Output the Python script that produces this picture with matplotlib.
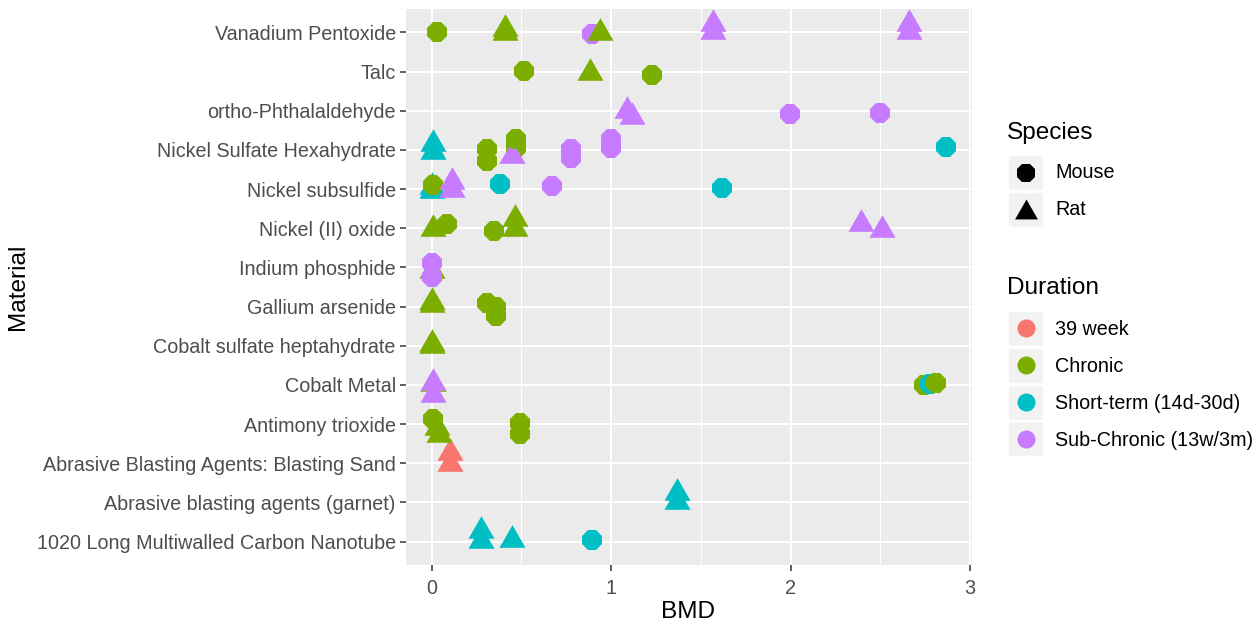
import matplotlib
matplotlib.use("Agg")
import matplotlib.pyplot as plt
from matplotlib.path import Path
from matplotlib.patches import Rectangle

plt.rcParams['font.family'] = ['Liberation Sans', 'DejaVu Sans']

# ---------------- data ----------------
materials = [
    "1020 Long Multiwalled Carbon Nanotube",
    "Abrasive blasting agents (garnet)",
    "Abrasive Blasting Agents: Blasting Sand",
    "Antimony trioxide",
    "Cobalt Metal",
    "Cobalt sulfate heptahydrate",
    "Gallium arsenide",
    "Indium phosphide",
    "Nickel (II) oxide",
    "Nickel subsulfide",
    "Nickel Sulfate Hexahydrate",
    "ortho-Phthalaldehyde",
    "Talc",
    "Vanadium Pentoxide",
]
durations = ["39 week", "Chronic", "Short-term (14d-30d)", "Sub-Chronic (13w/3m)"]
duration_colors = ["#F8766D", "#7CAE00", "#00BFC4", "#C77CFF"]
species_levels = ["Mouse", "Rat"]

C1020, GAR, SAND, SB, CO, COS, GA, IN, NIO, NIS, NSH, OPA, TALC, VAN = materials
D39, CHR, SHT, SUB = durations

pt_material = [
    C1020, C1020, C1020, C1020,
    GAR, GAR,
    SAND, SAND,
    SB, SB, SB, SB, SB,
    CO, CO, CO, CO, CO, CO,
    COS, COS,
    GA, GA, GA, GA, GA,
    IN, IN, IN,
    NIO, NIO, NIO, NIO, NIO, NIO, NIO,
    NIS, NIS, NIS, NIS, NIS, NIS, NIS, NIS,
    NSH, NSH, NSH, NSH, NSH, NSH, NSH, NSH, NSH, NSH, NSH, NSH,
    OPA, OPA, OPA, OPA,
    TALC, TALC, TALC,
    VAN, VAN, VAN, VAN, VAN, VAN, VAN, VAN, VAN,
]
pt_species = [
    "Rat", "Rat", "Rat", "Mouse",
    "Rat", "Rat",
    "Rat", "Rat",
    "Mouse", "Rat", "Rat", "Mouse", "Mouse",
    "Rat", "Rat", "Rat", "Mouse", "Mouse", "Mouse",
    "Rat", "Rat",
    "Rat", "Rat", "Mouse", "Mouse", "Mouse",
    "Rat", "Mouse", "Mouse",
    "Rat", "Mouse", "Mouse", "Rat", "Rat", "Rat", "Rat",
    "Rat", "Rat", "Mouse", "Rat", "Rat", "Mouse", "Mouse", "Mouse",
    "Rat", "Rat", "Mouse", "Mouse", "Mouse", "Rat", "Mouse", "Mouse", "Mouse", "Mouse", "Mouse", "Mouse",
    "Rat", "Rat", "Mouse", "Mouse",
    "Mouse", "Rat", "Mouse",
    "Mouse", "Rat", "Rat", "Mouse", "Rat", "Rat", "Rat", "Rat", "Rat",
]
pt_duration = [
    SHT, SHT, SHT, SHT,
    SHT, SHT,
    D39, D39,
    CHR, CHR, CHR, CHR, CHR,
    CHR, SUB, SUB, CHR, SHT, CHR,
    CHR, CHR,
    CHR, CHR, CHR, CHR, CHR,
    CHR, SUB, SUB,
    CHR, CHR, CHR, CHR, CHR, SUB, SUB,
    SHT, SHT, CHR, SUB, SUB, SHT, SUB, SHT,
    SHT, SHT, CHR, CHR, CHR, SUB, CHR, SUB, SUB, SUB, SUB, SHT,
    SUB, SUB, SUB, SUB,
    CHR, CHR, CHR,
    CHR, CHR, CHR, SUB, CHR, SUB, SUB, SUB, SUB,
]
pt_bmd = [
    0.274, 0.274, 0.448, 0.892,
    1.367, 1.367,
    0.102, 0.102,
    0.008, 0.028, 0.040, 0.493, 0.493,
    0.005, 0.009, 0.009, 2.743, 2.775, 2.810,
    0.000, 0.000,
    0.000, 0.000, 0.309, 0.360, 0.360,
    0.000, 0.000, 0.000,
    0.008, 0.087, 0.346, 0.467, 0.467, 2.394, 2.508,
    0.000, 0.000, 0.010, 0.112, 0.112, 0.381, 0.670, 1.618,
    0.009, 0.009, 0.307, 0.307, 0.471, 0.450, 0.471, 0.776, 0.776, 1.000, 1.000, 2.866,
    1.087, 1.114, 1.996, 2.500,
    0.515, 0.885, 1.230,
    0.030, 0.410, 0.410, 0.895, 0.940, 1.570, 1.570, 2.660, 2.660,
]
pt_jitter = [
    0.37, 0.12, 0.13, 0.03,
    0.35, 0.11,
    0.36, 0.09,
    0.14, 0.00, -0.17, 0.02, -0.25,
    0.12, 0.14, -0.15, 0.00, 0.03, 0.05,
    0.14, 0.10,
    0.21, 0.13, 0.10, 0.00, -0.24,
    0.02, 0.12, -0.24,
    0.09, 0.11, -0.06, 0.34, 0.09, 0.20, 0.05,
    0.16, 0.06, 0.10, 0.29, 0.08, 0.12, 0.08, 0.03,
    0.25, 0.05, 0.02, -0.29, 0.04, -0.04, 0.29, 0.02, -0.20, 0.29, 0.06, 0.08,
    0.09, -0.06, -0.08, -0.05,
    0.02, 0.08, -0.08,
    0.00, 0.20, 0.10, -0.03, 0.10, 0.31, 0.12, 0.31, 0.12,
]

# ---------------- figure ----------------
W, H = 1258, 627
fig = plt.figure(figsize=(W / 100, H / 100), dpi=100)
fig.patch.set_facecolor("white")

left_px, right_px, top_px, bot_px = 406, 971.7, 9, 565
ax = fig.add_axes([left_px / W, 1 - bot_px / H, (right_px - left_px) / W, (bot_px - top_px) / H])
ax.set_facecolor("#EBEBEB")
for s in ax.spines.values():
    s.set_visible(False)

tri = Path([(-1, -0.866), (1, -0.866), (0, 0.866), (-1, -0.866)],
           [Path.MOVETO, Path.LINETO, Path.LINETO, Path.CLOSEPOLY])
marker_for = {"Mouse": "8", "Rat": tri}
size_for = {"Mouse": 15.8, "Rat": 18.8}
color_for = dict(zip(durations, duration_colors))
ypos = {m: i for i, m in enumerate(materials)}

for i, (m, sp, du, x, j) in enumerate(zip(pt_material, pt_species, pt_duration, pt_bmd, pt_jitter)):
    ax.plot([x], [ypos[m] + j], linestyle="none", marker=marker_for[sp],
            markersize=size_for[sp], markerfacecolor=color_for[du],
            markeredgewidth=0, zorder=3 + i * 0.001)

ax.set_xlim(-0.143, 3.0095)
ax.set_ylim(-0.6, len(materials) - 1 + 0.6)
ax.set_xticks([0, 1, 2, 3])
ax.set_xticks([0.5, 1.5, 2.5], minor=True)
ax.set_yticks(range(len(materials)))
ax.set_yticklabels(materials)
ax.grid(which="major", color="white", linewidth=1.5, zorder=0)
ax.grid(which="minor", axis="x", color="white", linewidth=0.75, zorder=0)
ax.set_axisbelow(True)
ax.tick_params(axis="both", which="major", length=4.3, width=1.1, color="#333333",
               labelcolor="#4D4D4D", labelsize=14.2)
ax.tick_params(axis="y", pad=3.0)
ax.tick_params(axis="x", pad=5.5)
ax.tick_params(which="minor", length=0)

fig.text(688 / W, 1 - 612 / H, "BMD", ha="center", va="center", fontsize=17.6, color="black")
fig.text(18 / W, 1 - 287 / H, "Material", ha="center", va="center", rotation=90,
         fontsize=17.6, color="black")

# ---------------- legend (drawn in pixel coordinates) ----------------
lg = fig.add_axes([0, 0, 1, 1], zorder=10)
lg.set_xlim(0, W)
lg.set_ylim(H, 0)
lg.axis("off")
lg.patch.set_alpha(0)

key_x0, key_w = 1008.3, 35
text_x = 1055

lg.text(1006.7, 133, "Species", ha="left", va="center", fontsize=17.6, color="black")
for yc, sp in zip([172.5, 209.2], species_levels):
    lg.add_patch(Rectangle((key_x0, yc - 17.5), key_w, key_w, facecolor="#F2F2F2",
                           edgecolor="white", linewidth=1))
    lg.plot([key_x0 + key_w / 2], [yc], linestyle="none", marker=marker_for[sp],
            markersize=13.5 if sp == "Mouse" else 16.5, markerfacecolor="black",
            markeredgewidth=0)
    lg.text(text_x, yc + 0.5, sp, ha="left", va="center", fontsize=14.2, color="black")

lg.text(1006.7, 288.3, "Duration", ha="left", va="center", fontsize=17.6, color="black")
for yc, du, col in zip([328, 365, 402, 438.7], durations, duration_colors):
    lg.add_patch(Rectangle((key_x0, yc - 17.5), key_w, key_w, facecolor="#F2F2F2",
                           edgecolor="white", linewidth=1))
    lg.plot([key_x0 + key_w / 2], [yc], linestyle="none", marker="o",
            markersize=13, markerfacecolor=col, markeredgewidth=0)
    lg.text(text_x, yc + 1.5, du, ha="left", va="center", fontsize=14.2, color="black")

fig.savefig("out.png", dpi=100, facecolor="white")
